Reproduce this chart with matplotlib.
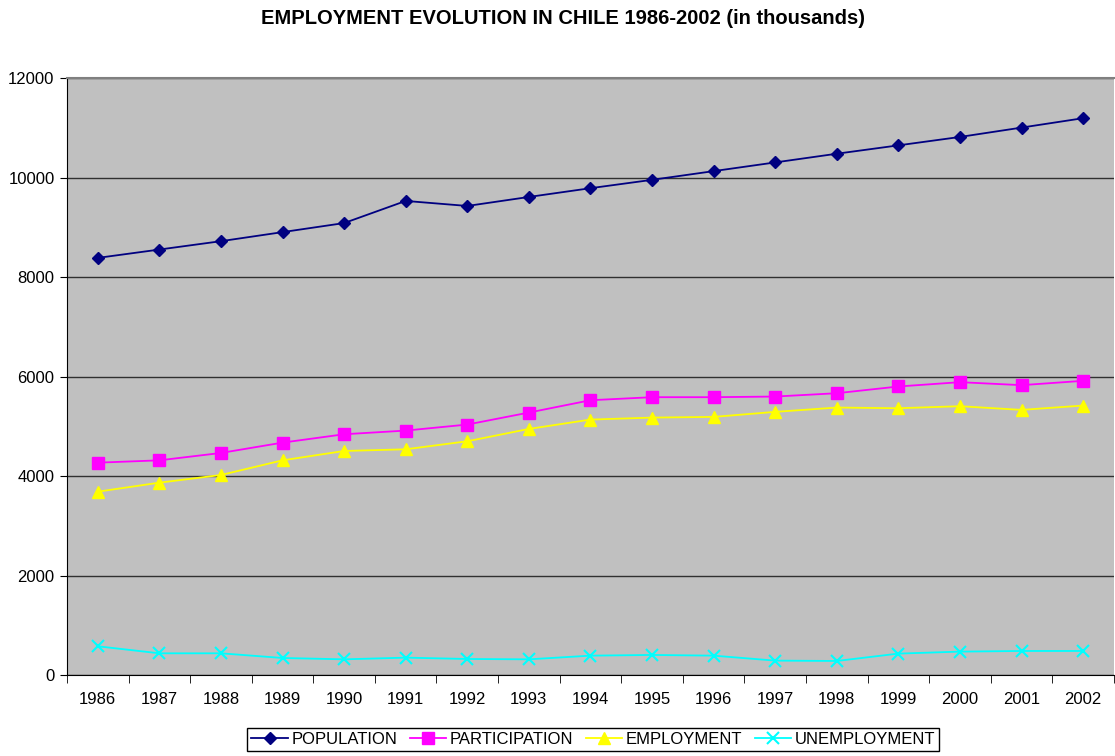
import numpy as np
import matplotlib
matplotlib.use('Agg')
from matplotlib import pyplot as plt

plt.rcParams['font.family'] = ['Liberation Sans', 'DejaVu Sans']

years = ['1986', '1987', '1988', '1989', '1990', '1991', '1992', '1993', '1994',
         '1995', '1996', '1997', '1998', '1999', '2000', '2001', '2002']
population = [8384, 8552, 8720, 8902, 9084, 9529, 9428, 9609, 9785,
              9953, 10128, 10303, 10478, 10646, 10815, 11003, 11192]
participation = [4268, 4315, 4463, 4671, 4839, 4913, 5034, 5275, 5523,
                 5584, 5584, 5597, 5664, 5799, 5886, 5826, 5913]
employment = [3685, 3866, 4020, 4315, 4503, 4537, 4698, 4946, 5134,
              5174, 5188, 5289, 5376, 5362, 5403, 5329, 5416]
unemployment = [577, 436, 436, 342, 315, 349, 322, 315, 389,
                403, 389, 289, 282, 430, 470, 483, 483]

fig = plt.figure(figsize=(11.15, 7.56), dpi=100)
ax = fig.add_axes([67/1115, 1-675/756, 1-67/1115-0.001, (675-78)/756])
ax.set_facecolor('#C0C0C0')

x = np.arange(len(years))
ax.plot(x, population, color='#000080', marker='D', markersize=6.5, lw=1.3, label='POPULATION')
ax.plot(x, participation, color='#FF00FF', marker='s', markersize=8, lw=1.3, label='PARTICIPATION')
ax.plot(x, employment, color='#FFFF00', marker='^', markersize=8.5, lw=1.3, label='EMPLOYMENT')
ax.plot(x, unemployment, color='#00FFFF', marker='x', markersize=8, mew=1.5, lw=1.3, label='UNEMPLOYMENT')

ax.set_xlim(-0.5, len(years)-0.5)
ax.set_ylim(0, 12000)
ax.set_yticks(range(0, 12001, 2000))
ax.yaxis.grid(True, color='#303030', lw=1)
ax.set_axisbelow(True)

ax.set_xticks(x)
ax.set_xticklabels(years)
ax.set_xticks(np.arange(-0.5, len(years), 1), minor=True)
ax.tick_params(axis='x', which='major', length=0, pad=12, labelsize=12)
ax.tick_params(axis='x', which='minor', length=6, direction='out', color='black')
ax.tick_params(axis='y', length=5, direction='out', labelsize=12, pad=4)

ax.spines['right'].set_visible(False)
ax.spines['top'].set_color('#808080')
ax.spines['top'].set_linewidth(1.5)
ax.spines['left'].set_color('black')
ax.spines['bottom'].set_color('black')

fig.text(0.505, 0.976, 'EMPLOYMENT EVOLUTION IN CHILE 1986-2002 (in thousands)',
         ha='center', va='center', fontsize=14.5, fontweight='bold')

leg = fig.legend(loc='center', bbox_to_anchor=(0.532, 0.0215), ncol=4, fontsize=12,
                 frameon=True, fancybox=False, edgecolor='black', framealpha=1,
                 handlelength=2.2, handletextpad=0.2, columnspacing=0.75,
                 borderpad=0.25, borderaxespad=0)
leg.get_frame().set_linewidth(1)

fig.savefig('out.png', dpi=100)
